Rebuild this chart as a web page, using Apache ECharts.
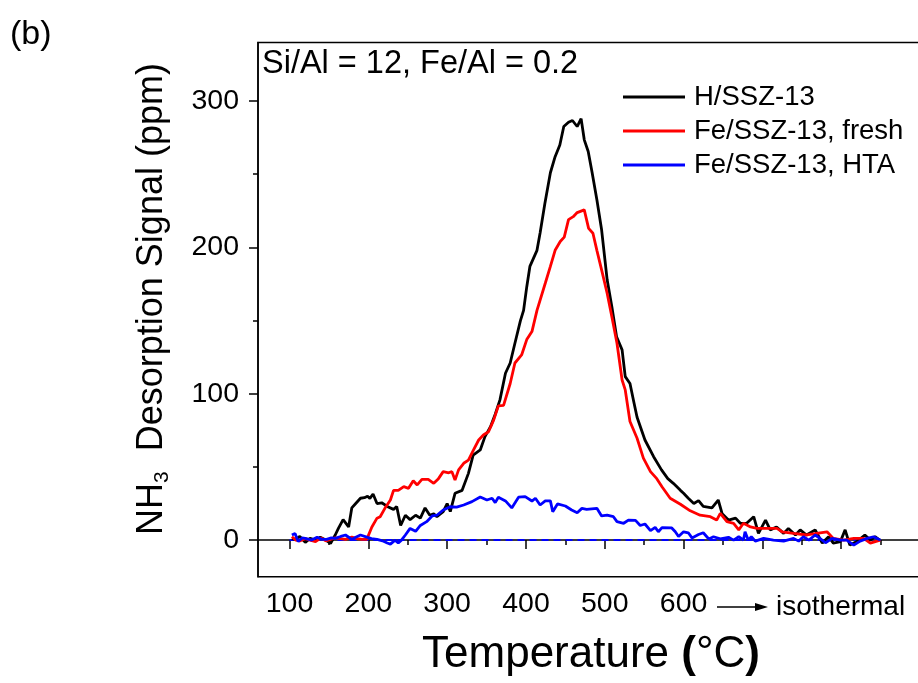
<!DOCTYPE html>
<html>
<head>
<meta charset="utf-8">
<script src="https://cdn.jsdelivr.net/npm/echarts@6/dist/echarts.min.js"></script>
<style>html,body{margin:0;padding:0;background:#fff}#c{width:918px;height:683px}</style>
</head>
<body>
<div id="c"></div>
<script>
// ---- data ----
const hTemp = [103,107,113,120,126,133,139,146,152,158,162,168,175,179,184,190,195,199,202,206,211,217,224,232,236,241,247,253,260,266,272,278,283,287,295,300,304,310,319,327,333,342,348,355,361,367,374,380,386,393,397,401,405,414,418,424,431,437,443,448,454,459,465,470,474,479,484,490,496,503,509,515,522,526,532,537,541,551,562,572,580,587,596,600,606,613,619,625,636,644,649,657,666,672,680,689,695,704,710,718,727,733,742,748,756,767,776,784,790,799,805,811,820,830,837,843,849];
const hSignal = [1,0.5,2.5,-1.5,1.2,0,2,0,-2.3,3.5,8,14,9,22,25,28.6,29,30,28.5,31.5,25,25.5,23,21,23,10,17,14,17,15,22,17,18,16,19.5,25,19.5,32,34,45.6,58,61.6,70.7,77.5,86,95.8,114,121,134.5,150,157,173,187,198,210,230,251,262,270,282.6,285.5,286.7,282.6,288,273.5,265.5,251,232.5,212,178,159.5,139,130,111.7,107,94,84,68.4,57,48,42,38.8,34,32,28.6,25,27,23,22,27.4,18,13.7,15,11.5,11.5,16,4.6,13.7,7,9,4.6,8,3.5,7,3.5,7,-2,2.3,-2,-1,7,-3.4,-1,3.5,0,2.3,0];

const freshTemp = [103,108,113,120,126,133,140,146,152,158,165,171,179,186,192,198,204.5,211,215,221,228,232,238,245,251,257,262,268,276,283,289,295,302,306,310,314.5,321,327,333.5,340,346,352.5,359,365,371.6,380,386,394.5,401,407.6,414,424.5,431,437,443.5,448.6,454,460,465,474,479.5,485,490,496,503,509,515.5,522,526,532,541,549,558,566,572.6,583,596,608.5,621,634,642,646.6,655,663.5,670,676,685,693,706,718.5,725,739.6,756.5,769,782,790,803,816,828.5,837,849.5];
const freshSignal = [2.3,0,-0.5,1,0,-1,1.5,-0.5,0.5,1.5,1,0.5,2,1,0.5,0.5,9,15,16,21.7,27.4,34,34,36.5,35.4,40.6,37.7,41.5,41.5,38.8,42,46.8,46,46.8,41,48,52.5,54.7,61.6,68.4,71.8,74,82,91.7,92,107,121,126.5,137,142.5,157,175.5,187,198,204,207,219,221,223.8,225.6,213,209.7,198,184.6,168.7,152.7,134.5,109.4,102.6,81,69.6,56,46.8,42,36.5,28.6,24.5,20,17,16,13.7,18.3,12.6,11.5,7,11.5,9,8,8,8,5.7,4.6,3.5,4.6,5.7,1.2,0,1.2,1.2,-2,0];

const htaTemp = [103,107,111,116,120,128,135,141,147,153,158,165,171,179,184,190,198,204,211,218,224,228,234,238,242,247,253,260,266,274,281,287,295,304,312,321,331.5,342,350.5,357,361,365,374,382,390.6,399,407.6,412,418,424.5,431,434,440,450,458,465,471,477,490,496,503,511,515.5,524,530,539,545,551,558,564,568,572.6,585,589.5,593.6,600,606,610.7,619,625,632,638,646.6,657,663.5,670,676,678,682,686,691,701.5,714,727,739.6,746,752,759,767,773,780,788.6,799,807,816,824,833,841,849.5];
const htaSignal = [3.5,4.6,-1,1.5,1.2,0,2,0.5,0.5,1.5,1.2,2.5,3.5,0.5,2,3.5,2,1,0.5,-0.5,-2,-2.7,0,-2,0,3.5,8,6,10,12.6,16.5,17,20.6,22.8,22.5,24,26.3,29.5,27.4,28.6,25.6,29.3,26.8,22,29.3,29.7,26.7,28.6,24,26.8,26.8,19.4,24.7,23.3,20.6,18.7,21.7,21,21.7,16.5,17,16,12.6,11.5,13.7,13.5,10,11,6.5,8.7,5.7,8.5,8.3,5.7,2.5,5.7,5,1.5,3.8,5,0.8,2.3,0.8,1.9,0,2.3,0,5.7,0,2.3,-0.7,1.2,0,-0.7,1.2,-0.7,2.3,0,3.5,1.2,-1.8,1.2,0,0,-3.4,-0.7,1.2,2.3,0];

const zeroTemp = [100, 850];
const zeroSignal = [0, 0];

const seriesNames = ['H/SSZ-13', 'Fe/SSZ-13, fresh', 'Fe/SSZ-13, HTA'];
const xMajorTicks = [100,200,300,400,500,600,700,800];
const xTickLabels = [100,200,300,400,500,600];
const xMinorTicks = [150,250,350,450,550,650,750,850];
const yMajorTicks = [0,100,200,300];
const yMinorTicks = [50,150,250];

const zip = (a, b) => a.map((v, i) => [v, b[i]]);
const FONT = 'Liberation Sans, Arial, sans-serif';

const chart = echarts.init(document.getElementById('c'), null, {renderer: 'canvas'});
const axisBase = {
  type: 'value', min: 60, max: 900,
  splitLine: {show: false}
};
const yBase = {
  type: 'value', min: -25, max: 340,
  splitLine: {show: false}
};
const lineCommon = {type: 'line', showSymbol: false, symbol: 'none', animation: false, clip: true};

chart.setOption({
  animation: false,
  textStyle: {fontFamily: FONT, color: '#000'},
  grid: {left: 258, top: 42.5, right: -2, bottom: 106.3, show: true, borderColor: '#000', borderWidth: 1.5, containLabel: false, outerBoundsMode: 'none'},
  xAxis: [
    Object.assign({}, axisBase, {
      position: 'bottom',
      axisLine: {show: true, lineStyle: {color: '#000', width: 1.5}},
      axisTick: {show: true, customValues: xMajorTicks, length: 9, lineStyle: {color: '#000', width: 1.5}},
      axisLabel: {show: true, customValues: xTickLabels, fontSize: 28.5, color: '#000', margin: 13, fontFamily: FONT}
    }),
    Object.assign({}, axisBase, {
      position: 'bottom',
      axisLine: {show: false},
      axisTick: {show: true, customValues: xMinorTicks, length: 5, lineStyle: {color: '#000', width: 1.5}},
      axisLabel: {show: false}
    })
  ],
  yAxis: [
    Object.assign({}, yBase, {
      position: 'left',
      axisLine: {show: true, lineStyle: {color: '#000', width: 1.5}},
      axisTick: {show: true, customValues: yMajorTicks, length: 9, lineStyle: {color: '#000', width: 1.5}},
      axisLabel: {show: true, customValues: yMajorTicks, fontSize: 28.5, color: '#000', margin: 19, fontFamily: FONT}
    }),
    Object.assign({}, yBase, {
      position: 'left',
      axisLine: {show: false},
      axisTick: {show: true, customValues: yMinorTicks, length: 5, lineStyle: {color: '#000', width: 1.5}},
      axisLabel: {show: false}
    })
  ],
  legend: {
    data: seriesNames,
    orient: 'vertical',
    left: 623, top: 80,
    padding: 0,
    itemWidth: 62, itemHeight: 3,
    icon: 'rect',
    itemGap: 0,
    textStyle: {fontSize: 27.5, lineHeight: 34, color: '#000', fontFamily: FONT, padding: [0, 0, 0, 4]}
  },
  series: [
    Object.assign({}, lineCommon, {name: 'zero', data: zip(zeroTemp, zeroSignal), z: 1,
      lineStyle: {color: '#0000ff', width: 2, type: [7, 5]}, itemStyle: {color: '#0000ff'}}),
    Object.assign({}, lineCommon, {name: seriesNames[0], data: zip(hTemp, hSignal), z: 2,
      lineStyle: {color: '#000000', width: 2.8}, itemStyle: {color: '#000000'}}),
    Object.assign({}, lineCommon, {name: seriesNames[1], data: zip(freshTemp, freshSignal), z: 3,
      lineStyle: {color: '#ff0000', width: 2.8}, itemStyle: {color: '#ff0000'}}),
    Object.assign({}, lineCommon, {name: seriesNames[2], data: zip(htaTemp, htaSignal), z: 4,
      lineStyle: {color: '#0000ff', width: 2.8}, itemStyle: {color: '#0000ff'}})
  ],
  graphic: [
    {type: 'text', left: 10, top: 18, style: {text: '(b)', fontSize: 34, fill: '#000', fontFamily: FONT}},
    {type: 'text', x: 262, y: 64, style: {text: 'Si/Al = 12, Fe/Al = 0.2', fontSize: 32.5, fill: '#000', fontFamily: FONT, verticalAlign: 'middle', align: 'left'}},
    {type: 'text', x: 591, y: 655, style: {
      text: '{n|Temperature }{b|(}{n|°C}{b|)}', align: 'center', verticalAlign: 'middle', fill: '#000', fontFamily: FONT,
      rich: {n: {fontSize: 44, fontFamily: FONT, fill: '#000'}, b: {fontSize: 44, fontWeight: 'bold', fontFamily: FONT, fill: '#000'}}
    }},
    {type: 'text', x: 152, y: 299, rotation: Math.PI / 2, style: {
      text: '{n|NH}{s|3}{n|  Desorption Signal (ppm)}', align: 'center', verticalAlign: 'middle', fill: '#000', fontFamily: FONT,
      rich: {n: {fontSize: 36, lineHeight: 42, fontFamily: FONT, fill: '#000'}, s: {fontSize: 21, lineHeight: 21, verticalAlign: 'bottom', fontFamily: FONT, fill: '#000'}}
    }},
    {type: 'line', shape: {x1: 717, y1: 607, x2: 757, y2: 607}, style: {stroke: '#000', lineWidth: 1.5}},
    {type: 'polygon', shape: {points: [[755, 603], [768, 607], [755, 611]]}, style: {fill: '#000'}},
    {type: 'text', x: 776, y: 607, style: {text: 'isothermal', fontSize: 28, fill: '#000', fontFamily: FONT, verticalAlign: 'middle', align: 'left'}}
  ]
});
</script>
</body>
</html>
